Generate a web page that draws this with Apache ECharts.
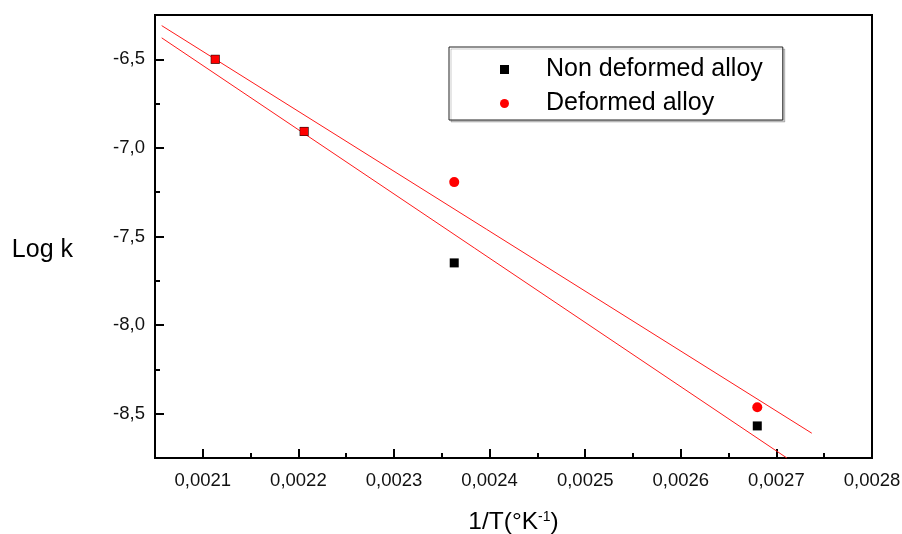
<!DOCTYPE html>
<html>
<head>
<meta charset="utf-8">
<script src="https://cdn.jsdelivr.net/npm/echarts@6/dist/echarts.min.js"></script>
<style>
  html, body { margin: 0; padding: 0; background: #fff; }
  #chart { width: 902px; height: 534px; }
</style>
</head>
<body>
<div id="chart"></div>
<script>
// Arrhenius plot: log of rate constant against reciprocal temperature
const invT = [0.002113, 0.002206, 0.002363, 0.00268];
const logKNonDeformed = [-6.50, -6.907, -7.649, -8.569];
const logKDeformed = [-6.50, -6.907, -7.193, -8.464];

// linear fit lines, given by their two end points [1/T, log k]
const fitNonDeformed = [[0.002057, -6.379], [0.002711, -8.75]];
const fitDeformed = [[0.002057, -6.31], [0.002737, -8.61]];

// axis ranges and tick positions
const xRange = [0.00205, 0.0028];
const yRange = [-8.75, -6.25];
const xMajorTicks = [0.0021, 0.0022, 0.0023, 0.0024, 0.0025, 0.0026, 0.0027, 0.0028];
const xMinorTicks = [0.00215, 0.00225, 0.00235, 0.00245, 0.00255, 0.00265, 0.00275];
const yMajorTicks = [-8.5, -8.0, -7.5, -7.0, -6.5];
const yMinorTicks = [-8.25, -7.75, -7.25, -6.75];

const FONT = "'Liberation Sans', Arial, sans-serif";

const nonDefPts = invT.map((x, i) => [x, logKNonDeformed[i]]);
// where both samples coincide the red marker is drawn as a square over the black one
const defPts = invT.map((x, i) => {
  const same = logKDeformed[i] === logKNonDeformed[i];
  return same ? { value: [x, logKDeformed[i]], symbol: 'rect', symbolSize: 8 } : [x, logKDeformed[i]];
});

const chart = echarts.init(document.getElementById('chart'), null, { renderer: 'canvas' });

const minorAxisCommon = {
  axisLine: { show: false },
  axisLabel: { show: false },
  splitLine: { show: false },
  axisTick: { inside: true, length: 5, lineStyle: { color: '#000', width: 2 } }
};

chart.setOption({
  animation: false,
  backgroundColor: '#fff',
  grid: {
    left: 155, right: 30, top: 15, bottom: 76,
    containLabel: false,
    outerBoundsMode: 'none',
    show: true, borderColor: '#000', borderWidth: 2
  },
  legend: {
    orient: 'vertical',
    left: 449, top: 47,
    data: ['Non deformed alloy', 'Deformed alloy'],
    itemWidth: 9, itemHeight: 9,
    itemGap: 9,
    padding: [10, 20, 4, 51],
    borderColor: '#222', borderWidth: 1, borderRadius: 0,
    backgroundColor: '#fff',
    shadowColor: 'rgba(0,0,0,0.2)', shadowOffsetX: 2, shadowOffsetY: 2, shadowBlur: 0,
    textStyle: { fontFamily: FONT, fontSize: 25, color: '#000', padding: [0, 0, 0, 32] }
  },
  xAxis: [{
    type: 'value',
    min: xRange[0], max: xRange[1],
    position: 'bottom',
    name: '{b|1/T(°K}{s|-1}{b|)}',
    nameLocation: 'middle',
    nameGap: 52,
    nameTextStyle: {
      rich: {
        b: { fontFamily: FONT, fontSize: 24.5, color: '#000' },
        s: { fontFamily: FONT, fontSize: 14, color: '#000', verticalAlign: 'top', padding: [0, 0, 10, 0] }
      }
    },
    axisLine: { onZero: false, lineStyle: { color: '#000', width: 2 } },
    axisTick: { inside: true, length: 9, customValues: xMajorTicks, lineStyle: { color: '#000', width: 2 } },
    axisLabel: {
      customValues: xMajorTicks,
      margin: 13,
      fontFamily: FONT, fontSize: 18.5, color: '#111',
      formatter: v => v.toFixed(4).replace('.', ',')
    },
    splitLine: { show: false }
  }, Object.assign({
    type: 'value', min: xRange[0], max: xRange[1], position: 'bottom'
  }, minorAxisCommon, {
    axisTick: Object.assign({}, minorAxisCommon.axisTick, { customValues: xMinorTicks })
  })],
  yAxis: [{
    type: 'value',
    min: yRange[0], max: yRange[1],
    position: 'left',
    name: '\nLog k',
    nameLocation: 'middle',
    nameRotate: 0,
    nameGap: 82,
    nameTextStyle: { fontFamily: FONT, fontSize: 25, lineHeight: 28, color: '#000' },
    axisLine: { onZero: false, lineStyle: { color: '#000', width: 2 } },
    axisTick: { inside: true, length: 9, customValues: yMajorTicks, lineStyle: { color: '#000', width: 2 } },
    axisLabel: {
      customValues: yMajorTicks,
      margin: 10,
      fontFamily: FONT, fontSize: 18.5, color: '#111',
      formatter: v => v.toFixed(1).replace('.', ',')
    },
    splitLine: { show: false }
  }, Object.assign({
    type: 'value', min: yRange[0], max: yRange[1], position: 'left'
  }, minorAxisCommon, {
    axisTick: Object.assign({}, minorAxisCommon.axisTick, { customValues: yMinorTicks })
  })],
  series: [
    {
      name: 'Non deformed fit', type: 'line', data: fitNonDeformed,
      showSymbol: false, symbol: 'none', silent: true, z: 1,
      lineStyle: { color: '#ff1a1a', width: 1 }
    },
    {
      name: 'Deformed fit', type: 'line', data: fitDeformed,
      showSymbol: false, symbol: 'none', silent: true, z: 1,
      lineStyle: { color: '#ff1a1a', width: 1 }
    },
    {
      name: 'Non deformed alloy', type: 'scatter', data: nonDefPts,
      symbol: 'rect', symbolSize: 9, z: 3,
      itemStyle: { color: '#000', opacity: 1 }
    },
    {
      name: 'Deformed alloy', type: 'scatter', data: defPts,
      symbol: 'circle', symbolSize: 10, z: 4,
      itemStyle: { color: '#ff0000', opacity: 1 }
    }
  ]
});
</script>
</body>
</html>
